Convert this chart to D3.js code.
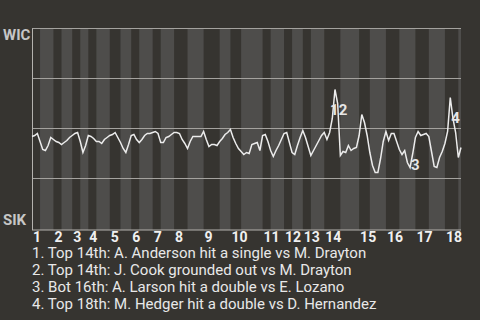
<!DOCTYPE html>
<html>
<head>
<meta charset="utf-8">
<script src="https://cdn.jsdelivr.net/npm/d3@7"></script>
<style>
  html, body { margin: 0; padding: 0; background: #363430; }
  svg { display: block; font-family: Roboto, "Noto Sans", sans-serif; }
</style>
</head>
<body>
<div id="chart"></div>
<script>
const teams = ['WIC', 'SIK'];
const innings = ['1','2','3','4','5','6','7','8','9','10','11','12','13','14','15','16','17','18'];
// plate appearances in each half inning, top then bottom
const halfCounts = [3,5, 3,4, 3,3, 3,5, 4,4, 3,5, 3,5, 5,6, 6,4, 4,8, 3,5, 3,4, 3,5, 6,7, 4,6, 5,6, 5,6, 5,1];
// WIC win probability after each plate appearance
const wp = [
  .46,.465,.475,.435,.395,.39,.415,.455,.445,.435,
  .43,.42,.43,.44,.455,.465,.475,.48,.435,.38,
  .415,.465,.46,.45,.435,.435,.425,.445,.455,.465,
  .47,.48,.455,.43,.40,.38,.42,.465,.47,.445,
  .43,.445,.465,.475,.475,.48,.485,.475,.43,.43,
  .455,.46,.47,.48,.48,.475,.445,.425,.40,.435,
  .46,.46,.46,.46,.485,.445,.41,.42,.42,.415,
  .435,.45,.47,.48,.495,.455,.425,.40,.385,.37,
  .38,.375,.42,.425,.43,.39,.465,.47,.435,.39,
  .36,.39,.415,.445,.475,.48,.43,.38,.37,.415,
  .455,.49,.455,.41,.365,.39,.415,.44,.465,.48,
  .445,.48,.55,.695,.625,.365,.385,.38,.415,.39,
  .40,.405,.465,.57,.53,.465,.38,.315,.28,.28,
  .35,.435,.485,.44,.475,.475,.435,.395,.37,.39,
  .33,.305,.375,.455,.485,.465,.47,.475,.46,.385,
  .31,.305,.355,.385,.425,.485,.655,.55,.48,.355,
  .405
];
const plays = [
  '1. Top 14th: A. Anderson hit a single vs M. Drayton',
  '2. Top 14th: J. Cook grounded out vs M. Drayton',
  '3. Bot 16th: A. Larson hit a double vs E. Lozano',
  '4. Top 18th: M. Hedger hit a double vs D. Hernandez'
];
const markerEvent = [113, 114, 141, 156];
const markerP = [0.5675, 0.5675, 0.2925, 0.5275];
const gridP = [0.25, 0.5, 0.75, 1];

const W = 480, H = 320;
const svg = d3.select('#chart').append('svg').attr('width', W).attr('height', H);
svg.append('rect').attr('width', W).attr('height', H).attr('fill', '#363430');

const total = d3.sum(halfCounts);
const x = d3.scaleLinear().domain([0, total]).range([32, 461]);
const y = d3.scaleLinear().domain([0, 1]).range([228.5, 28.5]);

// half inning bands
const bands = [];
let acc = 0;
halfCounts.forEach((c, i) => {
  bands.push({start: acc, end: acc + c, half: i % 2, inning: Math.floor(i / 2)});
  acc += c;
});

svg.append('g').selectAll('rect')
  .data(bands.filter(d => d.half === 1))
  .enter().append('rect')
    .attr('x', d => x(d.start))
    .attr('width', d => x(d.end) - x(d.start))
    .attr('y', y(1))
    .attr('height', y(0) - y(1) + 1.5)
    .attr('fill', '#4e4d4b');

svg.append('g').selectAll('line')
  .data(gridP)
  .enter().append('line')
    .attr('x1', x(0)).attr('x2', x(total))
    .attr('y1', d => y(d)).attr('y2', d => y(d))
    .attr('stroke', '#a4a29e').attr('stroke-width', 1);

// axes frame: left and bottom
svg.append('line')
  .attr('x1', x(0) + 0.5).attr('x2', x(0) + 0.5)
  .attr('y1', y(1)).attr('y2', y(0) + 1.5)
  .attr('stroke', '#b4b2ae');
svg.append('line')
  .attr('x1', x(0)).attr('x2', x(total))
  .attr('y1', y(0) + 1.5).attr('y2', y(0) + 1.5)
  .attr('stroke', '#b4b2ae');

const line = d3.line().x((d, i) => x(i)).y(d => y(d));
svg.append('path')
  .datum(wp)
  .attr('d', line)
  .attr('fill', 'none')
  .attr('stroke', '#ececec')
  .attr('stroke-width', 1.5)
  .attr('stroke-linejoin', 'miter');

svg.append('g').selectAll('text')
  .data(markerEvent)
  .enter().append('text')
    .attr('x', (d, i) => x(d) + (i === 0 ? -5 : 1))
    .attr('y', (d, i) => y(markerP[i]))
    .attr('font-size', 15)
    .attr('font-weight', 700)
    .attr('fill', '#e6e6e6')
    .text((d, i) => i + 1);

// team labels
svg.append('text').attr('x', 3).attr('y', y(1) + 11)
  .attr('font-size', 15).attr('font-weight', 700).attr('fill', '#c6c6c6')
  .text(teams[0]);
svg.append('text').attr('x', 3).attr('y', y(0) - 3.5)
  .attr('font-size', 15).attr('font-weight', 700).attr('fill', '#c6c6c6')
  .text(teams[1]);

// inning numbers
svg.append('g').selectAll('text')
  .data(bands.filter(d => d.half === 0))
  .enter().append('text')
    .attr('x', d => x(d.start) + 1)
    .attr('y', 241.5)
    .attr('font-size', 14)
    .attr('font-weight', 700)
    .attr('fill', '#f0f0f0')
    .text(d => innings[d.inning]);

svg.append('g').selectAll('text')
  .data(plays)
  .enter().append('text')
    .attr('x', 32)
    .attr('y', (d, i) => 258 + i * 17)
    .attr('font-size', 15)
    .attr('fill', '#e8e8e8')
    .text(d => d);
</script>
</body>
</html>
